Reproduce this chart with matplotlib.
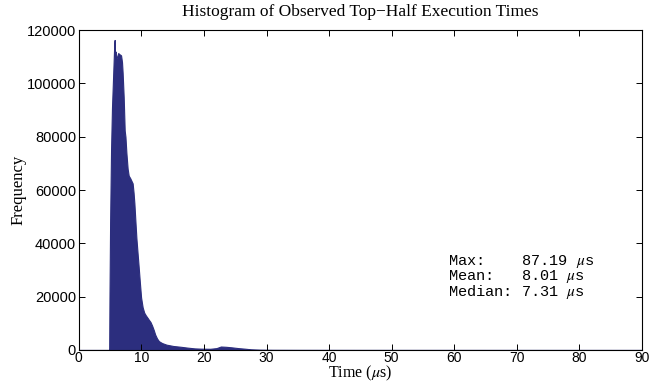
import matplotlib
matplotlib.use("Agg")
import matplotlib.pyplot as plt

# Histogram outline (time in microseconds, frequency)
time_us = [0, 4.85, 4.9, 5.0, 5.15, 5.3, 5.5, 5.65, 5.72, 5.78, 5.85, 5.95, 6.1, 6.3,
           6.45, 6.6, 6.75, 6.9, 7.0, 7.17, 7.33, 7.45, 7.6, 7.8, 7.97, 8.2, 8.4, 8.6,
           8.75, 8.88, 9.05, 9.2, 9.4, 9.57, 9.75, 9.95, 10.2, 10.45, 10.7, 11.0, 11.2,
           11.45, 11.7, 11.97, 12.2, 12.5, 12.8, 13.3, 14.0, 15.1, 16.3, 17.3, 18.5,
           19.5, 21.0, 22.0, 22.7, 23.5, 24.4, 25.5, 26.5, 27.5, 29, 31, 35, 45, 60, 90]
frequency = [0, 0, 20000, 48000, 75000, 91000, 104000, 114000, 116300, 110000, 112000,
             108600, 110000, 111400, 111000, 110800, 110500, 108000, 104000, 94800,
             82300, 80000, 74000, 68000, 65400, 64500, 63500, 62500, 59000, 55000,
             48000, 42000, 36000, 31000, 25500, 19700, 16000, 14000, 13000, 12000,
             11300, 10500, 9200, 7500, 5800, 4300, 3300, 2600, 2000, 1500, 1200, 900,
             600, 500, 450, 700, 1300, 1200, 1000, 700, 500, 250, 100, 50, 30, 15, 10, 0]

x_ticks = [0, 10, 20, 30, 40, 50, 60, 70, 80, 90]
y_ticks = [0, 20000, 40000, 60000, 80000, 100000, 120000]

stat_lines = ["Max:    87.19 $\\mu$s", "Mean:   8.01 $\\mu$s", "Median: 7.31 $\\mu$s"]

plt.rcParams['mathtext.fontset'] = 'stix'

fig = plt.figure(figsize=(6.57, 3.81), dpi=100)
ax = fig.add_axes([0.120, 0.0814, 0.857, 0.8396])

navy = '#2c2e7e'
ax.fill_between(time_us, frequency, 0, facecolor=navy, edgecolor=navy, linewidth=0.8)

ax.set_xlim(0, 90)
ax.set_ylim(0, 120000)
ax.set_xticks(x_ticks)
ax.set_yticks(y_ticks)
ax.set_xticklabels([str(t) for t in x_ticks], family='Liberation Sans', fontsize=10)
ax.set_yticklabels([str(t) for t in y_ticks], family='Liberation Sans', fontsize=10.5)
ax.tick_params(direction='in', top=True, right=True, length=4, width=0.7, pad=2)
ax.tick_params(axis='x', pad=1)
for s in ax.spines.values():
    s.set_linewidth(0.8)

ax.set_title("Histogram of Observed Top\u2212Half Execution Times",
             family='Liberation Serif', fontsize=12.5, pad=10)
ax.set_xlabel("Time ($\\mu$s)", family='Liberation Serif', fontsize=11.5, labelpad=-1.5)
ax.set_ylabel("Frequency", family='Liberation Serif', fontsize=12, labelpad=0)

ax.text(59, 27500, "\n".join(stat_lines), family='Liberation Mono', fontsize=11,
        va='center', ha='left', linespacing=0.85)

fig.savefig("out.png", dpi=100)
